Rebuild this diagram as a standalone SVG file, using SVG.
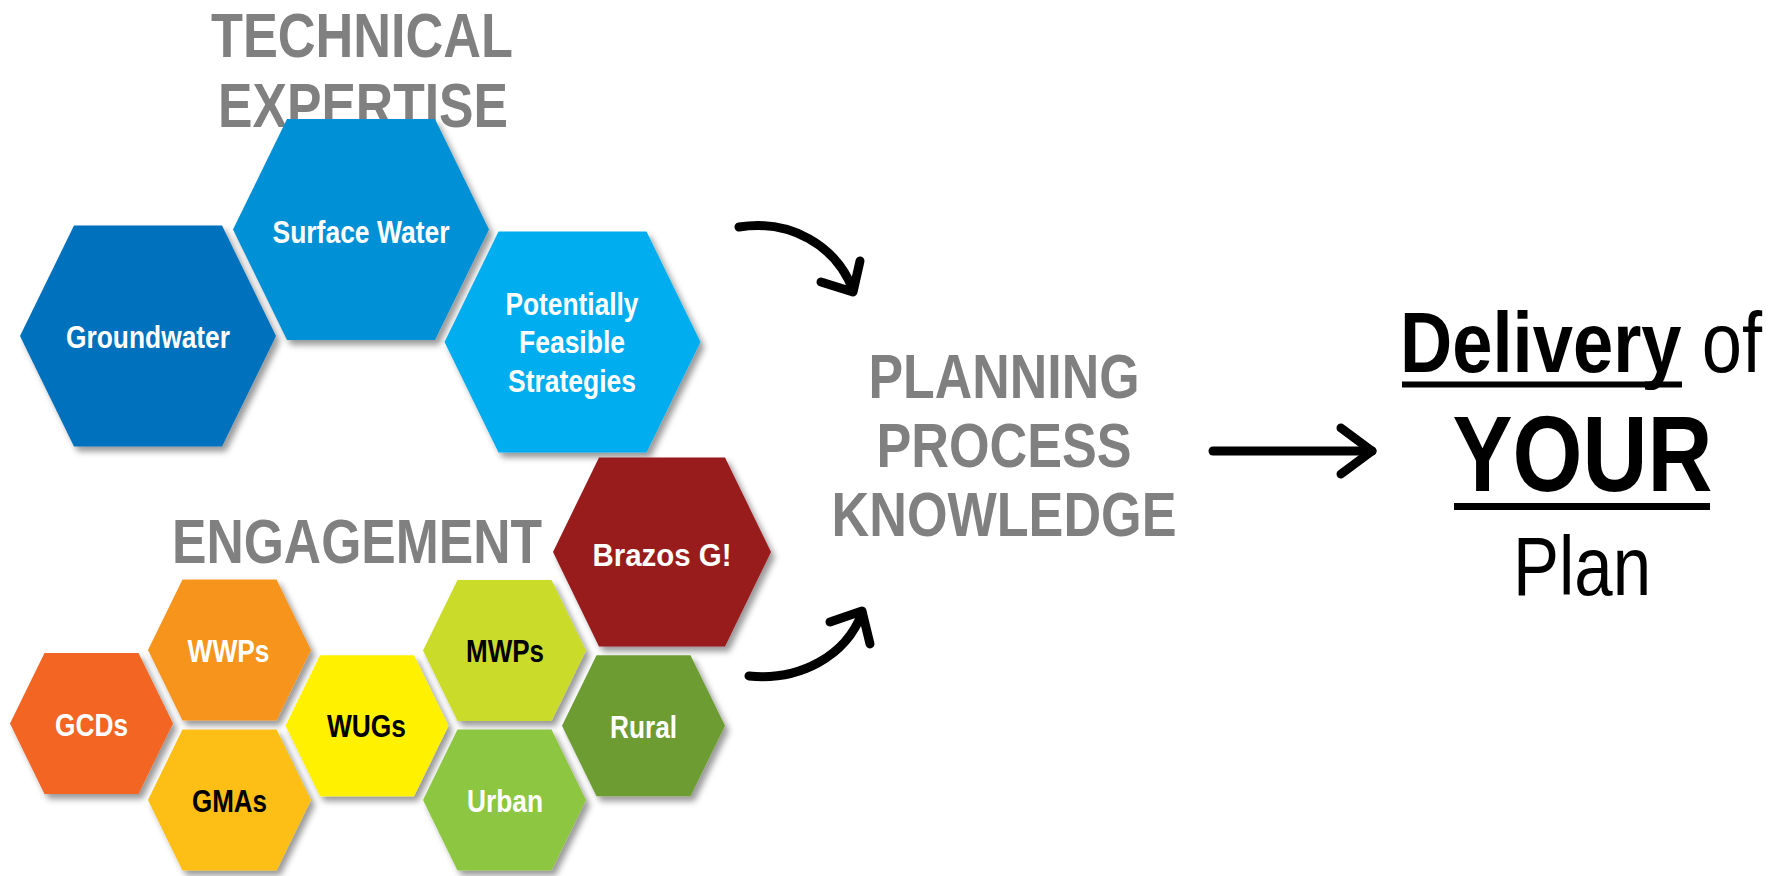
<svg xmlns="http://www.w3.org/2000/svg" width="1783" height="876" viewBox="0 0 1783 876">
<defs>
<filter id="sh" x="-20%" y="-20%" width="150%" height="150%">
<feDropShadow dx="4" dy="5" stdDeviation="3" flood-color="#000" flood-opacity="0.4"/>
</filter>
<polygon id="hexL" points="-128,0 -74,-110.5 74,-110.5 128,0 74,110.5 -74,110.5"/>
<polygon id="hexS" points="-81.5,0 -47,-70.5 47,-70.5 81.5,0 47,70.5 -47,70.5"/>
<polygon id="hexB" points="-109,0 -63,-94.5 63,-94.5 109,0 63,94.5 -63,94.5"/>
</defs>
<style>
.hx{filter:url(#sh)}
.t{font-family:"Liberation Sans Narrow","Liberation Sans",Arial,sans-serif;font-weight:bold;text-anchor:middle}
.lw{fill:#fff;font-size:32px}
.lk{fill:#000;font-size:32px}
.ttl{fill:#808080;font-size:63px}
.blk{font-family:"Liberation Sans Narrow","Liberation Sans",Arial,sans-serif;fill:#000}
.arr{fill:none;stroke:#000;stroke-width:9;stroke-linecap:round;stroke-linejoin:round}
</style>
<rect width="1783" height="876" fill="#fff"/>

<g id="titles">
<text class="t ttl" x="362" y="57" textLength="302" lengthAdjust="spacingAndGlyphs">TECHNICAL</text>
<text class="t ttl" x="363" y="127" textLength="290" lengthAdjust="spacingAndGlyphs">EXPERTISE</text>
<text class="t ttl" x="357" y="563" font-size="65" textLength="370" lengthAdjust="spacingAndGlyphs">ENGAGEMENT</text>
</g>

<g id="groundwater">
<use href="#hexL" class="hx" x="148" y="336" fill="#0071BC"/>
<text class="t lw" x="148" y="348" textLength="164" lengthAdjust="spacingAndGlyphs">Groundwater</text>
</g>
<g id="surface-water">
<use href="#hexL" class="hx" x="361" y="229.5" fill="#0090D5"/>
<text class="t lw" x="361" y="243" textLength="177" lengthAdjust="spacingAndGlyphs">Surface Water</text>
</g>
<g id="potentially-feasible">
<use href="#hexL" class="hx" x="572.5" y="342" fill="#00AEEF"/>
<text class="t lw" x="572" y="315" font-size="31" textLength="133" lengthAdjust="spacingAndGlyphs">Potentially</text>
<text class="t lw" x="572" y="353" font-size="31" textLength="106" lengthAdjust="spacingAndGlyphs">Feasible</text>
<text class="t lw" x="572" y="392" font-size="31" textLength="128" lengthAdjust="spacingAndGlyphs">Strategies</text>
</g>

<g id="brazos-g">
<use href="#hexB" class="hx" x="662" y="552" fill="#981B1F"/>
<text class="t lw" x="662" y="566" font-size="35" textLength="139" lengthAdjust="spacingAndGlyphs">Brazos G!</text>
</g>
<g id="gcds">
<use href="#hexS" class="hx" x="91.5" y="723.5" fill="#F26522"/>
<text class="t lw" x="91.5" y="736" textLength="73" lengthAdjust="spacingAndGlyphs">GCDs</text>
</g>
<g id="wwps">
<use href="#hexS" class="hx" x="229.5" y="650" fill="#F7941E"/>
<text class="t lw" x="228.5" y="662" textLength="82" lengthAdjust="spacingAndGlyphs">WWPs</text>
</g>
<g id="gmas">
<use href="#hexS" class="hx" x="229.5" y="800" fill="#FDBE12"/>
<text class="t lk" x="229.5" y="812" textLength="75" lengthAdjust="spacingAndGlyphs">GMAs</text>
</g>
<g id="wugs">
<use href="#hexS" class="hx" x="367" y="725.7" fill="#FFF100"/>
<text class="t lk" x="366.5" y="737" textLength="79" lengthAdjust="spacingAndGlyphs">WUGs</text>
</g>
<g id="mwps">
<use href="#hexS" class="hx" x="504.5" y="650.5" fill="#CADB2C"/>
<text class="t lk" x="505" y="662" textLength="78" lengthAdjust="spacingAndGlyphs">MWPs</text>
</g>
<g id="urban">
<use href="#hexS" class="hx" x="504.5" y="800" fill="#8DC63F"/>
<text class="t lw" x="505" y="812" textLength="76" lengthAdjust="spacingAndGlyphs">Urban</text>
</g>
<g id="rural">
<use href="#hexS" class="hx" x="643.5" y="725.7" fill="#6D9C31"/>
<text class="t lw" x="643.5" y="738" textLength="67" lengthAdjust="spacingAndGlyphs">Rural</text>
</g>

<g id="planning-process-knowledge">
<text class="t ttl" x="1004" y="398" font-size="64" textLength="271" lengthAdjust="spacingAndGlyphs">PLANNING</text>
<text class="t ttl" x="1004" y="467" font-size="64" textLength="255" lengthAdjust="spacingAndGlyphs">PROCESS</text>
<text class="t ttl" x="1004" y="536" font-size="64" textLength="345" lengthAdjust="spacingAndGlyphs">KNOWLEDGE</text>
</g>

<g id="delivery-of-your-plan">
<text class="blk" x="1400" y="372" font-size="86" textLength="362" lengthAdjust="spacingAndGlyphs"><tspan font-weight="bold">Delivery</tspan> of</text>
<rect x="1402" y="381.5" width="280" height="6" fill="#000"/>
<text class="blk" x="1582.5" y="491" font-size="108" font-weight="bold" text-anchor="middle" textLength="260" lengthAdjust="spacingAndGlyphs">YOUR</text>
<rect x="1454" y="503" width="256" height="7" fill="#000"/>
<text class="blk" x="1582" y="595" font-size="84" text-anchor="middle" textLength="138" lengthAdjust="spacingAndGlyphs">Plan</text>
</g>

<g id="connectors">
<path class="arr" d="M739,227 C790,219 836,245 853,290"/>
<path class="arr" d="M860,261 L853,292 L821,282"/>
<path class="arr" d="M749,676 C800,681 846,656 862,613"/>
<path class="arr" d="M830,622 L862,611 L870,644"/>
<path class="arr" d="M1213,451 L1372,451"/>
<path class="arr" d="M1341,428 L1372,451 L1341,474"/>
</g>
</svg>
